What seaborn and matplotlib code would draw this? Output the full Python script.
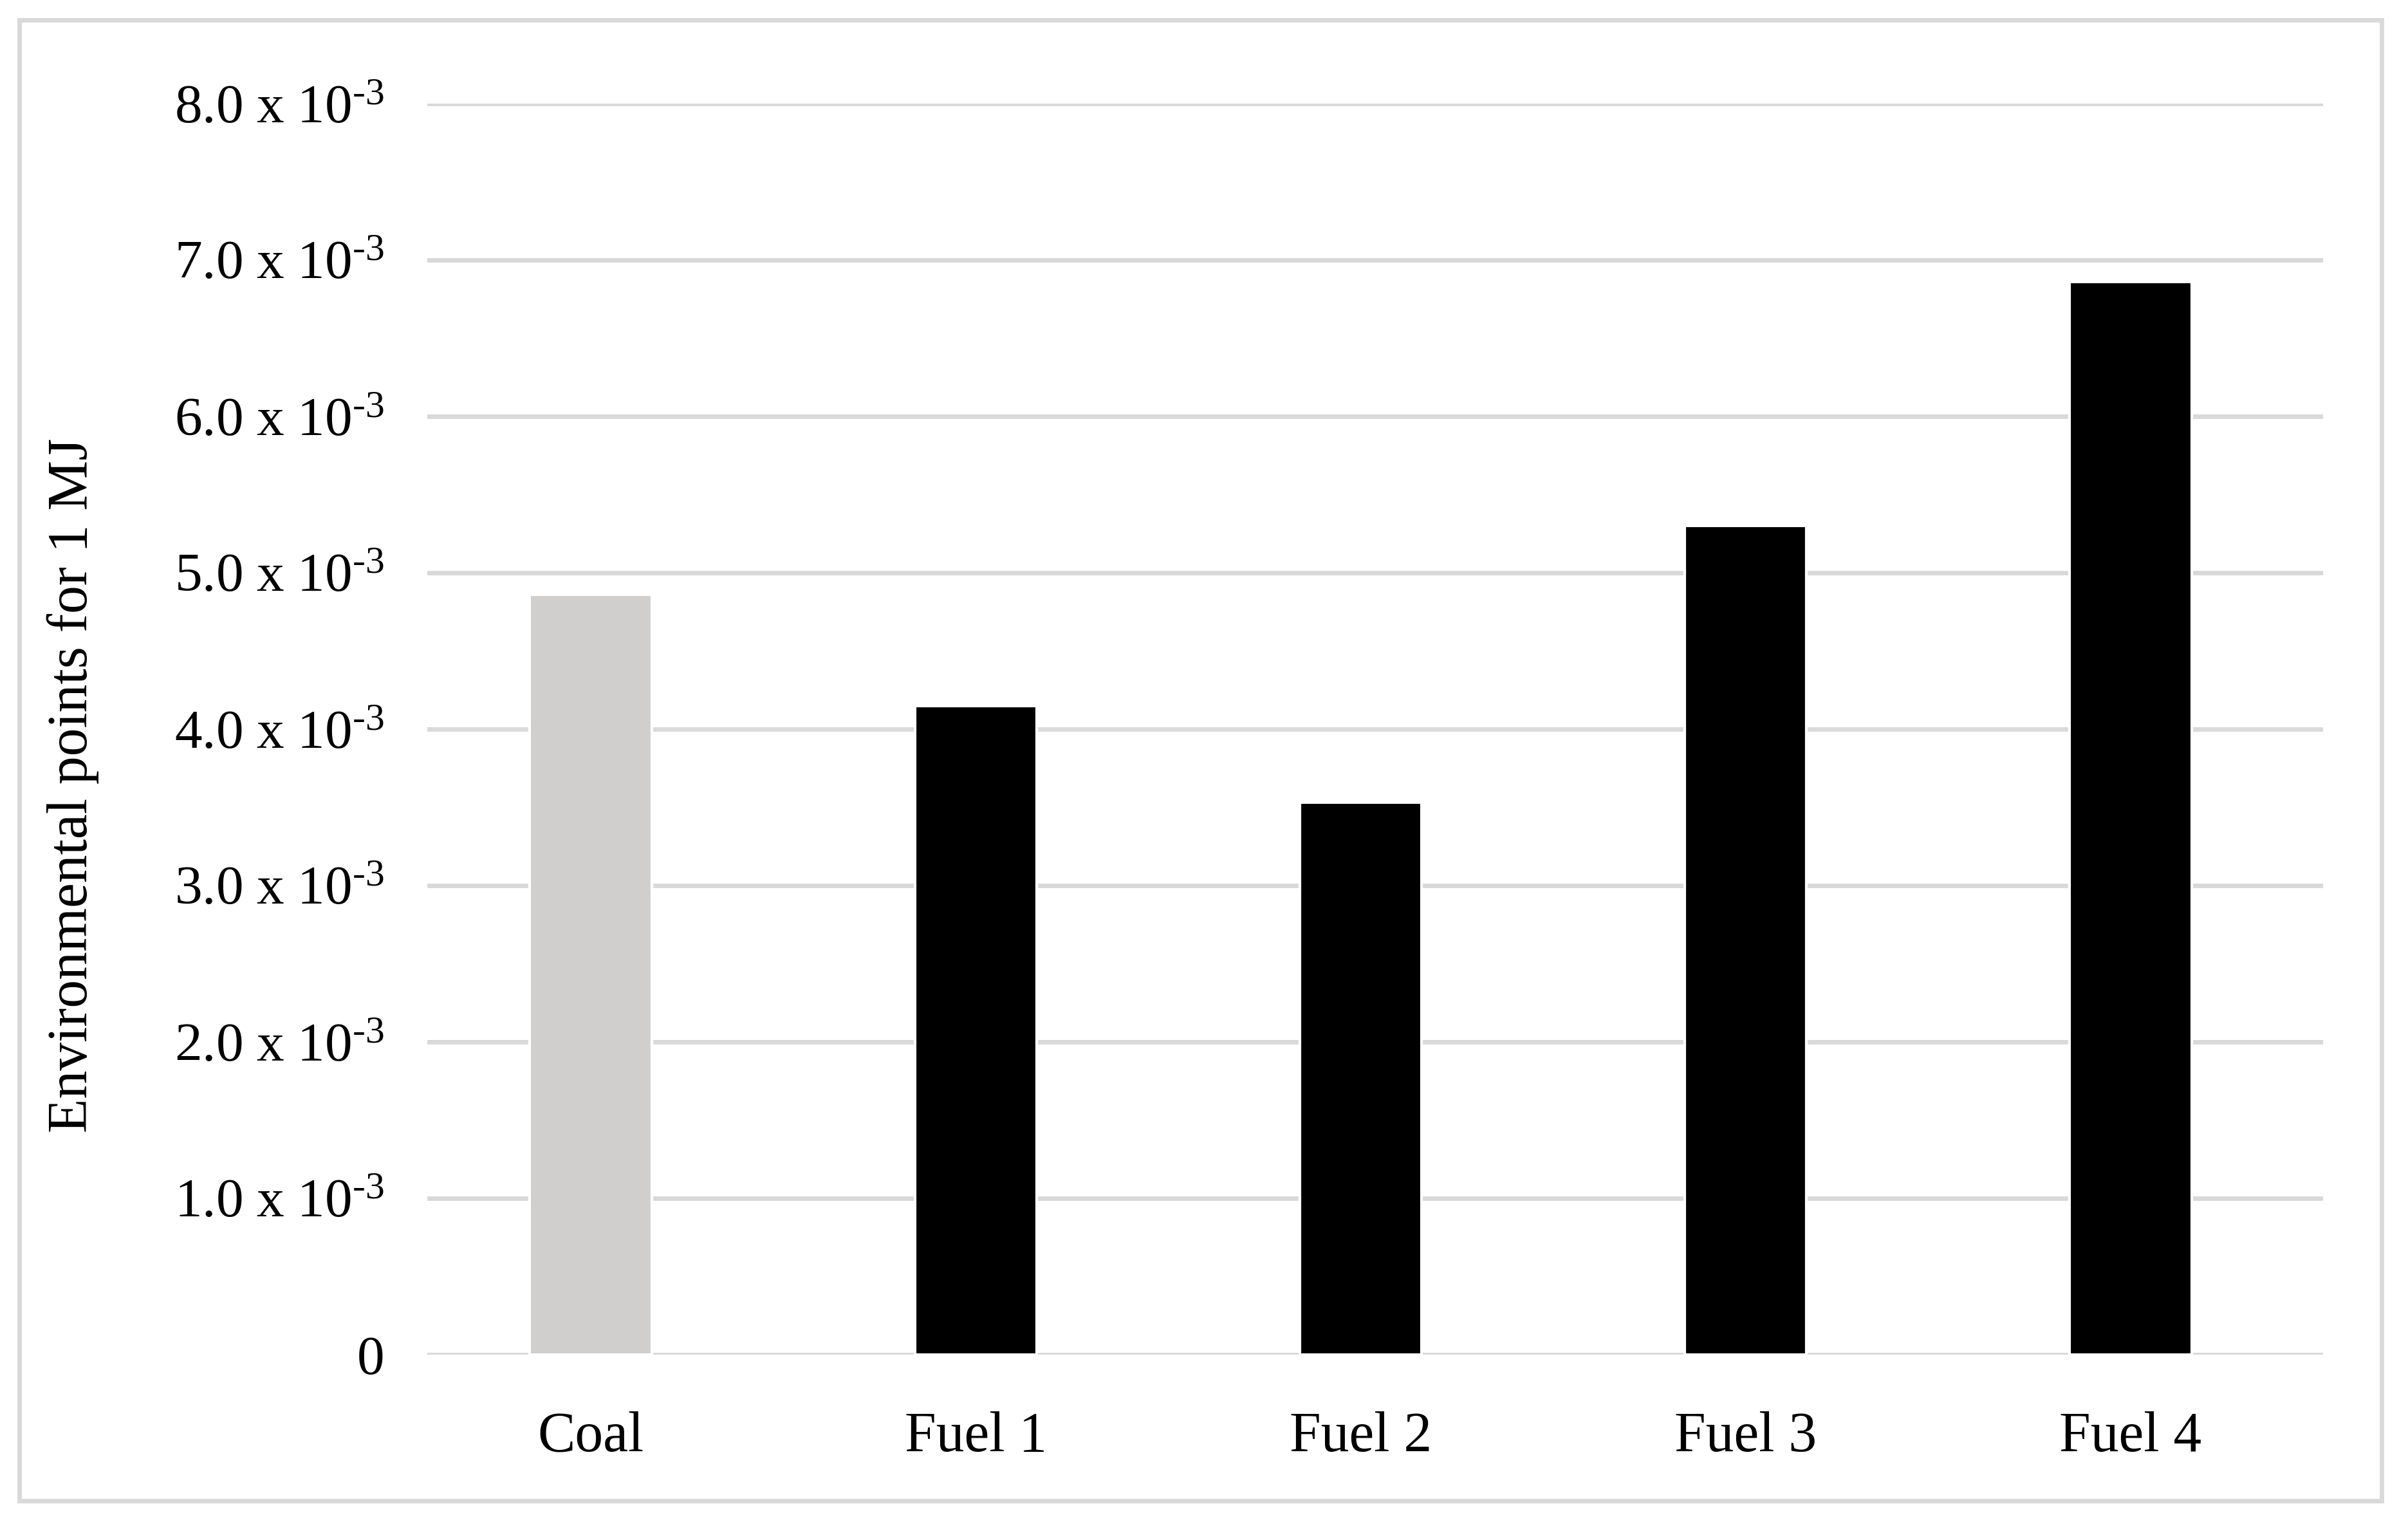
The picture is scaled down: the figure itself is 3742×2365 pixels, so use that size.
import pandas as pd
import numpy as np
import matplotlib
matplotlib.use('Agg')
import matplotlib.pyplot as plt
import seaborn as sns
from matplotlib.patches import Rectangle

# Chart data (values in environmental points per MJ)
categories = ['Coal', 'Fuel 1', 'Fuel 2', 'Fuel 3', 'Fuel 4']
values = [4.86e-3, 4.15e-3, 3.53e-3, 5.30e-3, 6.86e-3]
bar_colors = ['#d0cfcd', '#000000', '#000000', '#000000', '#000000']
ytick_values = [0, 1e-3, 2e-3, 3e-3, 4e-3, 5e-3, 6e-3, 7e-3, 8e-3]
ytick_labels = ['0'] + [r'$\mathrm{%d.0\ x\ 10}^{\text{-3}}$' % i for i in range(1, 9)]
ylabel_text = 'Environmental points for 1 MJ'

sns.set_theme(style='white')
plt.rcParams.update({
    'font.family': ['Liberation Serif', 'DejaVu Serif'],
    'font.size': 21,
    'mathtext.fontset': 'custom',
    'mathtext.rm': 'Liberation Serif',
    'mathtext.it': 'Liberation Serif:italic',
    'mathtext.bf': 'Liberation Serif:bold',
})

grid_color = '#d9d9d9'

df = pd.DataFrame({'category': categories, 'value': values})

W, H, DPI = 3742, 2365, 300
fig = plt.figure(figsize=(W / DPI, H / DPI), dpi=DPI)
fig.patch.set_facecolor('white')

# plot area placed in pixel coordinates of the reference
left, right, top, bottom = 664, 3610, 161, 2105
ax = fig.add_axes([left / W, (H - bottom) / H, (right - left) / W, (bottom - top) / H])

sns.barplot(
    data=df, x='category', y='value', hue='category',
    palette=dict(zip(categories, bar_colors)), legend=False,
    width=0.316, saturation=1, ax=ax, zorder=3
)

ax.set_xlim(-0.4246, 4.4998)
ax.set_ylim(0, 8e-3)
ax.set_yticks(ytick_values)
ax.set_yticklabels(ytick_labels)
ax.set_xlabel('')
ax.set_ylabel(ylabel_text, fontsize=21, color='black', va='center')
ax.yaxis.set_label_coords(-0.1868, 0.455)

ax.grid(axis='y', color=grid_color, linewidth=1.68, zorder=0)
ax.set_axisbelow(True)
ax.tick_params(axis='y', length=0, pad=16, labelsize=20.5, labelcolor='black')
ax.tick_params(axis='x', length=0, pad=21, labelsize=21, labelcolor='black')
for spine in ax.spines.values():
    spine.set_visible(False)

# zero line drawn like the gridlines
ax.axhline(0, color=grid_color, linewidth=1.68, zorder=1)

# outer chart border
fig.add_artist(Rectangle((30 / W, (H - 2332) / H), (3701 - 30) / W, (2332 - 31) / H,
                         transform=fig.transFigure, fill=False,
                         edgecolor=grid_color, linewidth=1.68))

fig.savefig('out.png', dpi=DPI)
plt.close(fig)
